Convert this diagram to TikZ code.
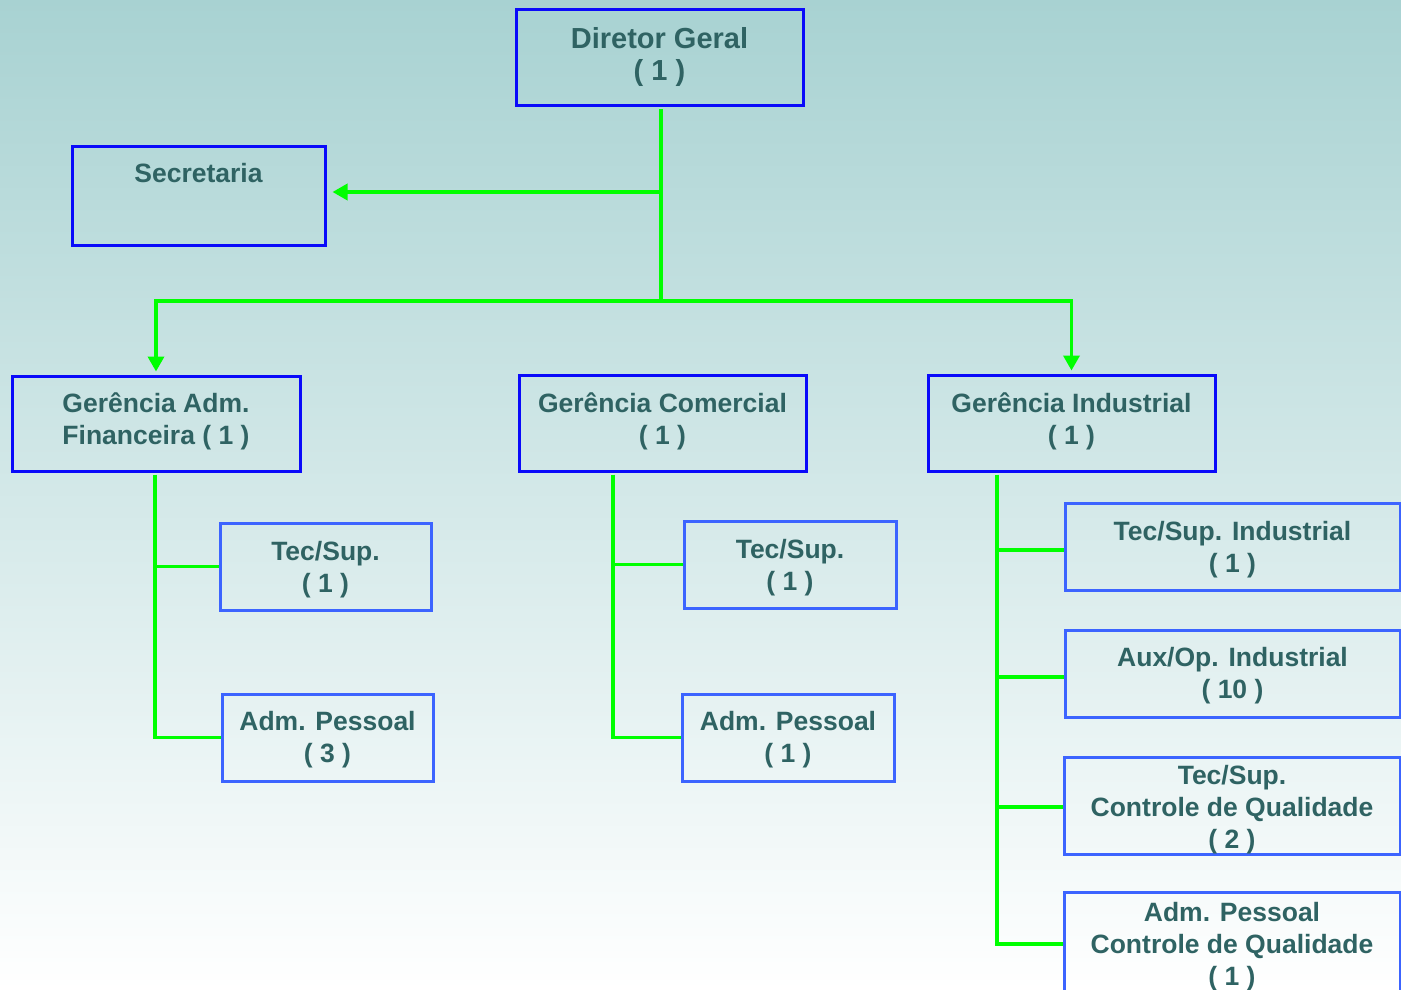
\documentclass[tikz,border=0pt]{standalone}
\usepackage{fontspec}
\setmainfont{Liberation Sans}
\usetikzlibrary{arrows.meta}
\definecolor{txtc}{RGB}{47,99,99}
\definecolor{mainblue}{RGB}{10,10,250}
\definecolor{subblue}{RGB}{60,100,255}
\definecolor{connc}{RGB}{0,255,0}
\definecolor{bgtop}{RGB}{168,210,210}
\begin{document}
\begin{tikzpicture}[x=1pt,y=-1pt,
  txt/.style={text=txtc, font=\fontsize{26.5}{32}\selectfont\bfseries, align=center},
  mainbox/.style={draw=mainblue, line width=3pt, txt, inner sep=0pt},
  subbox/.style={draw=subblue, line width=3pt, txt, inner sep=0pt},
  tdown/.style={execute at begin node={\rule{0pt}{#1}}},
  tup/.style={execute at end node={\rule[-#1]{0pt}{#1}}},
  conn/.style={draw=connc, line width=3.5pt},
  arr/.style={conn, -{Triangle[length=15pt,width=16pt]}}
]
\shade[top color=bgtop, bottom color=white] (0,0) rectangle (1401,990);
\useasboundingbox (0,0) rectangle (1401,990);

% top level
\node[mainbox, font=\fontsize{29}{32}\selectfont\bfseries, minimum width=287, minimum height=96] (dg) at (659.5,57.5) {Diretor Geral\\( 1 )};
\node[mainbox, minimum width=253, minimum height=99] (sec) at (198.5,195.5) {};
\node[txt, anchor=base] (sect) at (198.5,182) {Secretaria};

\node[mainbox, tup=9.5pt, minimum width=288, minimum height=95] (gaf) at (156,423.5) {Gerência Adm.\\Financeira ( 1 )};
\node[mainbox, tup=9.5pt, minimum width=287, minimum height=96] (gc) at (662.5,423) {Gerência Comercial\\( 1 )};
\node[mainbox, tup=9.5pt, minimum width=287, minimum height=96] (gi) at (1071.5,423) {Gerência Industrial\\( 1 )};

% sub boxes
\node[subbox, tdown=57.3pt, minimum width=211, minimum height=87] (taf) at (325.5,566.5) {Tec/Sup.\\( 1 )};
\node[subbox, tdown=56.3pt, minimum width=211, minimum height=87] (aaf) at (327.5,737.5) {Adm. Pessoal\\( 3 )};
\node[subbox, tdown=57.3pt, minimum width=212, minimum height=87] (tcm) at (790,564.5) {Tec/Sup.\\( 1 )};
\node[subbox, tdown=56.3pt, minimum width=212, minimum height=87] (acm) at (788,737.5) {Adm. Pessoal\\( 1 )};
\node[subbox, tdown=57.3pt, minimum width=335, minimum height=87] (tin) at (1232.5,546.5) {Tec/Sup. Industrial\\( 1 )};
\node[subbox, tdown=55.3pt, minimum width=335, minimum height=87] (aux) at (1232.5,673.5) {Aux/Op. Industrial\\( 10 )};
\node[subbox, tdown=91.3pt, minimum width=336, minimum height=97] (tcq) at (1232,805.5) {Tec/Sup.\\Controle de Qualidade\\( 2 )};
\node[subbox, tdown=93.3pt, minimum width=336, minimum height=98] (acq) at (1232,942) {Adm. Pessoal\\Controle de Qualidade\\( 1 )};

% connectors from director
\coordinate (hub) at ([xshift=1.5pt]dg.south |- 0,301);
\draw[conn] ([xshift=1.5pt,yshift=-2pt]dg.south) -- (hub);
\draw[arr, shorten >=6pt] (hub |- 0,192) -- (sec.east |- 0,192);
\draw[arr, shorten >=3pt] (hub) -| (gaf.north);
\draw[arr, shorten >=3pt] (hub) -| (gi.north);

% financeira
\coordinate (fv) at ([xshift=-1pt,yshift=-2pt]gaf.south);
\draw[conn] (fv) |- (aaf.west);
\draw[conn] (fv |- taf.west) -- (taf.west);

% comercial
\coordinate (cv) at ([xshift=-49.5pt,yshift=-2pt]gc.south);
\draw[conn] (cv) |- (acm.west);
\draw[conn] (cv |- tcm.west) -- (tcm.west);

% industrial
\coordinate (iv) at ([xshift=-74.5pt,yshift=-2pt]gi.south);
\draw[conn] (iv) |- ([yshift=-2pt]acq.west);
\draw[conn] (iv |- 0,550) -- (tin.west |- 0,550);
\draw[conn] (iv |- 0,677) -- (aux.west |- 0,677);
\draw[conn] (iv |- 0,807) -- (tcq.west |- 0,807);
\end{tikzpicture}
\end{document}
